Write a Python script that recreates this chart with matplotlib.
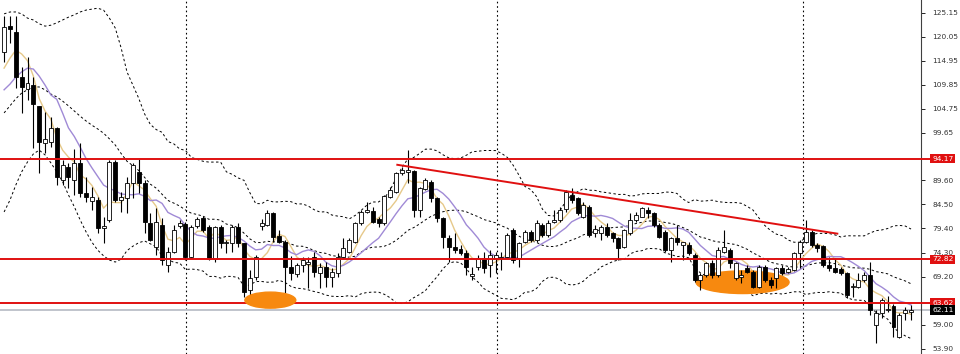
import matplotlib.pyplot as plt
import numpy as np
import pandas as pd
from matplotlib.patches import Ellipse
from matplotlib.transforms import blended_transform_factory

# weekly candles
opens = [116.8, 122.3, 121.1, 111.5, 109.0, 109.8, 105.4, 97.5, 97.7, 100.7,
         89.7, 92.4, 89.7, 93.3, 86.9, 85.2, 85.4, 79.5, 81.2, 93.5,
         85.4, 85.8, 89.0, 91.4, 89.0, 80.6, 75.5, 80.1, 71.6, 74.4,
         80.0, 80.4, 73.4, 80.0, 81.6, 79.7, 72.9, 79.7, 76.3, 76.3,
         79.7, 76.3, 66.3, 69.1, 80.0, 80.1, 82.7, 77.8, 76.5, 71.2,
         69.8, 71.6, 71.8, 73.4, 70.0, 71.2, 69.1, 70.0, 73.4, 74.4,
         76.5, 80.6, 82.9, 83.1, 81.4, 80.6, 86.1, 87.1, 91.2, 91.4,
         91.6, 83.3, 87.8, 89.2, 85.8, 81.6, 77.4, 75.5, 75.1, 74.2,
         69.3, 71.2, 73.1, 71.6, 73.1, 73.1, 73.4, 79.0, 73.1, 76.5,
         78.6, 77.0, 80.1, 78.0, 80.8, 81.2, 83.5, 86.5, 85.8, 81.8,
         83.9, 78.4, 78.4, 79.7, 78.4, 77.4, 75.5, 78.4, 81.2, 81.8,
         83.3, 82.7, 80.1, 78.6, 74.8, 77.4, 75.9, 75.9, 73.8, 68.5,
         69.5, 72.1, 69.5, 74.4, 74.8, 68.9, 69.1, 71.0, 70.2, 67.0,
         71.2, 68.5, 68.9, 71.0, 70.2, 70.6, 74.2, 76.5, 78.6, 75.9,
         75.7, 71.6, 71.0, 70.8, 70.0, 66.9, 67.0, 68.5, 69.5, 58.9,
         61.5, 62.1, 63.0, 56.3, 61.5, 61.7]
highs = [124.4, 124.4, 124.4, 113.6, 115.7, 111.5, 105.4, 104.1, 103.0, 100.9,
         93.9, 93.3, 96.3, 97.5, 90.3, 88.2, 86.1, 81.8, 93.9, 93.9,
         87.1, 90.3, 93.3, 94.1, 89.7, 82.7, 83.7, 81.6, 75.5, 80.1,
         81.2, 80.8, 80.1, 81.8, 82.0, 80.1, 79.9, 80.1, 77.0, 80.1,
         80.5, 76.3, 70.6, 73.8, 81.4, 83.3, 82.9, 79.0, 76.9, 73.6,
         72.1, 73.4, 73.4, 74.4, 72.1, 72.3, 71.0, 74.2, 77.4, 77.4,
         80.8, 83.3, 85.0, 84.0, 81.8, 86.5, 88.2, 91.4, 92.4, 96.0,
         91.8, 88.2, 90.1, 89.7, 86.1, 81.8, 78.0, 78.4, 75.9, 74.8,
         71.2, 73.8, 74.4, 74.8, 74.4, 74.4, 78.4, 79.5, 76.5, 79.0,
         79.0, 81.2, 80.6, 81.2, 83.3, 84.0, 87.6, 88.0, 86.1, 85.0,
         84.4, 80.1, 80.1, 80.6, 78.6, 77.6, 79.2, 82.7, 82.9, 84.0,
         84.0, 82.9, 80.6, 79.0, 77.6, 80.1, 76.5, 76.5, 74.2, 70.0,
         72.3, 72.7, 75.5, 79.0, 75.3, 72.3, 70.6, 71.6, 70.6, 71.6,
         71.6, 69.1, 71.2, 71.6, 71.2, 74.4, 76.9, 81.2, 79.0, 76.3,
         75.9, 73.4, 73.1, 71.2, 70.2, 67.8, 70.0, 70.2, 72.3, 62.1,
         64.6, 65.1, 63.4, 61.5, 62.7, 63.2]
lows = [114.7, 118.7, 109.2, 103.9, 106.6, 96.5, 91.2, 95.4, 96.7, 88.6,
        88.6, 88.0, 86.5, 86.1, 85.0, 83.3, 78.4, 76.3, 80.8, 85.0,
        82.9, 82.7, 85.8, 86.9, 78.4, 76.7, 73.8, 71.6, 70.2, 74.2,
        79.5, 72.7, 73.1, 79.5, 78.6, 72.7, 72.3, 75.3, 74.2, 74.4,
        75.5, 64.8, 63.8, 68.5, 79.0, 79.9, 76.5, 76.3, 63.2, 68.5,
        69.1, 70.2, 66.8, 69.1, 66.8, 67.0, 67.0, 69.1, 73.1, 74.2,
        76.3, 80.1, 82.7, 80.5, 79.7, 80.1, 85.8, 86.9, 90.7, 89.0,
        81.8, 81.8, 87.6, 85.0, 80.8, 75.3, 72.3, 74.2, 73.8, 69.5,
        68.5, 70.6, 70.0, 69.1, 70.0, 70.6, 73.1, 72.1, 71.2, 76.3,
        76.5, 76.5, 77.6, 77.6, 80.6, 80.8, 82.9, 84.8, 82.3, 81.6,
        77.6, 77.6, 76.9, 77.6, 76.5, 72.7, 75.3, 78.0, 80.8, 81.8,
        81.6, 79.7, 77.4, 74.4, 72.3, 75.9, 72.7, 73.8, 68.1, 66.3,
        69.1, 68.9, 69.1, 74.2, 71.0, 68.5, 67.8, 69.9, 66.8, 66.8,
        68.1, 66.8, 66.8, 69.5, 69.9, 70.4, 71.0, 76.3, 75.5, 74.4,
        71.2, 70.4, 69.9, 69.5, 64.6, 64.8, 66.8, 68.1, 61.0, 55.1,
        60.4, 61.7, 56.3, 56.1, 60.0, 60.0]
closes = [122.1, 121.7, 111.5, 109.4, 110.2, 105.8, 97.7, 98.4, 100.7, 90.3,
          92.9, 90.3, 93.3, 86.9, 86.1, 86.1, 79.5, 79.9, 93.5, 85.4,
          86.1, 89.0, 92.9, 89.0, 80.8, 76.9, 80.8, 72.7, 74.4, 79.0,
          80.6, 73.4, 79.7, 81.4, 79.0, 72.9, 79.7, 76.3, 76.5, 79.7,
          76.3, 65.9, 68.9, 73.4, 80.5, 82.7, 77.6, 76.5, 71.2, 70.0,
          71.6, 72.7, 72.3, 70.2, 71.2, 69.1, 70.2, 73.4, 75.3, 77.0,
          80.6, 82.9, 83.3, 80.8, 80.6, 86.3, 87.6, 91.2, 91.8, 91.8,
          83.3, 88.0, 89.7, 85.8, 81.6, 77.6, 75.5, 74.8, 74.2, 71.2,
          69.8, 73.1, 71.0, 73.8, 73.8, 73.4, 78.0, 72.7, 76.3, 78.6,
          77.0, 80.6, 78.0, 80.6, 81.2, 83.3, 87.1, 85.4, 82.7, 84.4,
          78.0, 79.2, 79.7, 78.0, 77.4, 75.3, 79.0, 81.2, 82.3, 83.7,
          82.7, 80.1, 77.6, 74.8, 77.4, 76.5, 76.5, 74.2, 68.5, 69.5,
          72.1, 69.5, 74.8, 75.5, 72.1, 72.1, 69.5, 70.2, 67.0, 71.2,
          68.5, 67.4, 71.0, 69.9, 70.8, 74.2, 76.5, 78.6, 75.9, 75.3,
          71.6, 71.0, 70.2, 70.0, 65.3, 67.2, 68.5, 69.5, 62.1, 61.5,
          64.2, 62.3, 58.4, 61.0, 62.1, 62.1]

# indicator values at the left edge (they depend on bars before the window)
fast_head = [113.4, 115.5, 117.2, 116.4]
slow_head = [108.8, 110.0, 111.5, 112.6, 113.4, 113.2, 111.7, 109.8, 107.7]
bb_up_head = [124.9, 125.3, 125.3, 124.9, 124.0, 123.6, 122.8, 122.3, 122.5,
              123.0, 123.6, 124.2, 124.7, 125.3, 125.7, 125.9, 126.1, 125.7,
              124.0]
bb_mid_head = [103.9, 105.4, 106.9, 108.1, 108.8, 109.4, 109.4, 108.8, 107.9,
               107.3, 106.4, 105.4, 104.3, 103.2, 102.2, 101.3, 100.5, 99.6,
               98.4]
bb_lo_head = [82.9, 85.4, 88.6, 91.4, 93.5, 95.2, 96.0, 95.0, 93.3, 91.4,
              89.3, 86.5, 84.0, 81.2, 78.7, 76.5, 74.8, 73.6, 72.7]

levels = [94.17, 72.82, 63.62]
bid = 62.11
ytick_vals = [125.15, 120.05, 114.95, 109.85, 104.75, 99.65, 89.60,
              84.50, 79.40, 74.30, 69.20, 59.00, 53.90]
year_lines = [31.1, 84.3, 136.6]
trend_x = [67.2, 142.4]
trend_y = [92.9, 78.3]

RED = "#e01010"


def with_head(series, head):
    arr = series.to_numpy().copy()
    arr[:len(head)] = head
    return arr


def main():
    df = pd.DataFrame({"o": opens, "h": highs, "l": lows, "c": closes})
    x = np.arange(len(df))
    fast = with_head(df["c"].rolling(5).mean(), fast_head)
    slow = with_head(df["c"].rolling(10).mean(), slow_head)
    mid = df["c"].rolling(20).mean()
    sd = df["c"].rolling(20).std(ddof=0)
    upper = with_head(mid + 2 * sd, bb_up_head)
    lower = with_head(mid - 2 * sd, bb_lo_head)
    mid = with_head(mid, bb_mid_head)

    fig = plt.figure(figsize=(9.6, 3.54), dpi=100)
    ax = fig.add_axes([0, 0, 921 / 960, 1])

    for v in year_lines:
        ax.axvline(v, color="black", lw=0.8, ls=(0, (1.5, 2.5)), zorder=1)

    for line in (mid, upper, lower):
        ax.plot(x, line, color="black", lw=0.7, ls=(0, (2.5, 2.5)), zorder=2)

    ax.plot(x, fast, color="#e6c98a", lw=1.0, zorder=3)
    ax.plot(x, slow, color="#a08ad6", lw=1.0, zorder=3)

    up = df["c"] >= df["o"]
    ax.vlines(x, df["l"], df["h"], color="black", lw=0.8, zorder=4)
    body_lo = np.minimum(df["o"], df["c"])
    body_h = np.maximum((df["c"] - df["o"]).abs(), 0.25)
    ax.bar(x, body_h, bottom=body_lo, width=0.68,
           color=np.where(up, "white", "black"), edgecolor="black",
           linewidth=0.6, zorder=5)

    tr = blended_transform_factory(ax.transAxes, ax.transData)
    for lv in levels:
        ax.plot([0, 1.011], [lv, lv], color=RED, lw=1.4, zorder=6,
                transform=tr, clip_on=False)
    ax.plot([0, 1.011], [bid, bid], color="#c0c4cc", lw=1.4, zorder=1,
            transform=tr, clip_on=False)
    ax.plot(trend_x, trend_y, color=RED, lw=1.4, zorder=6)

    ax.add_patch(Ellipse((45.5, 64.2), 8.7, 3.4, color="#f7890f", zorder=7))
    ax.add_patch(Ellipse((126.2, 68.0), 15.9, 4.8, color="#f7890f", zorder=3.5))

    ax.set_xlim(-0.7, 156.7)
    ax.set_ylim(52.78, 127.84)
    for s in ("left", "top", "bottom"):
        ax.spines[s].set_visible(False)
    ax.spines["right"].set_linewidth(0.8)
    ax.spines["right"].set_color("#404040")
    ax.set_xticks([])
    ax.yaxis.tick_right()
    ax.set_yticks(ytick_vals)
    ax.set_yticklabels([f"{v:.2f}" for v in ytick_vals])
    ax.tick_params(axis="y", length=3, width=0.6, labelsize=5.3,
                   labelcolor="#333333", pad=5)

    for lv in levels:
        ax.text(1.012, lv, f"{lv:.2f}", transform=tr, fontsize=5.4,
                color="white", va="center", ha="left", zorder=10,
                bbox=dict(boxstyle="square,pad=0.22", fc=RED, ec="none"),
                clip_on=False)
    ax.text(1.012, bid, f"{bid:.2f}", transform=tr, fontsize=5.4,
            color="white", va="center", ha="left", zorder=10,
            bbox=dict(boxstyle="square,pad=0.22", fc="black", ec="none"),
            clip_on=False)

    fig.savefig("out.png", dpi=100)


if __name__ == "__main__":
    main()
